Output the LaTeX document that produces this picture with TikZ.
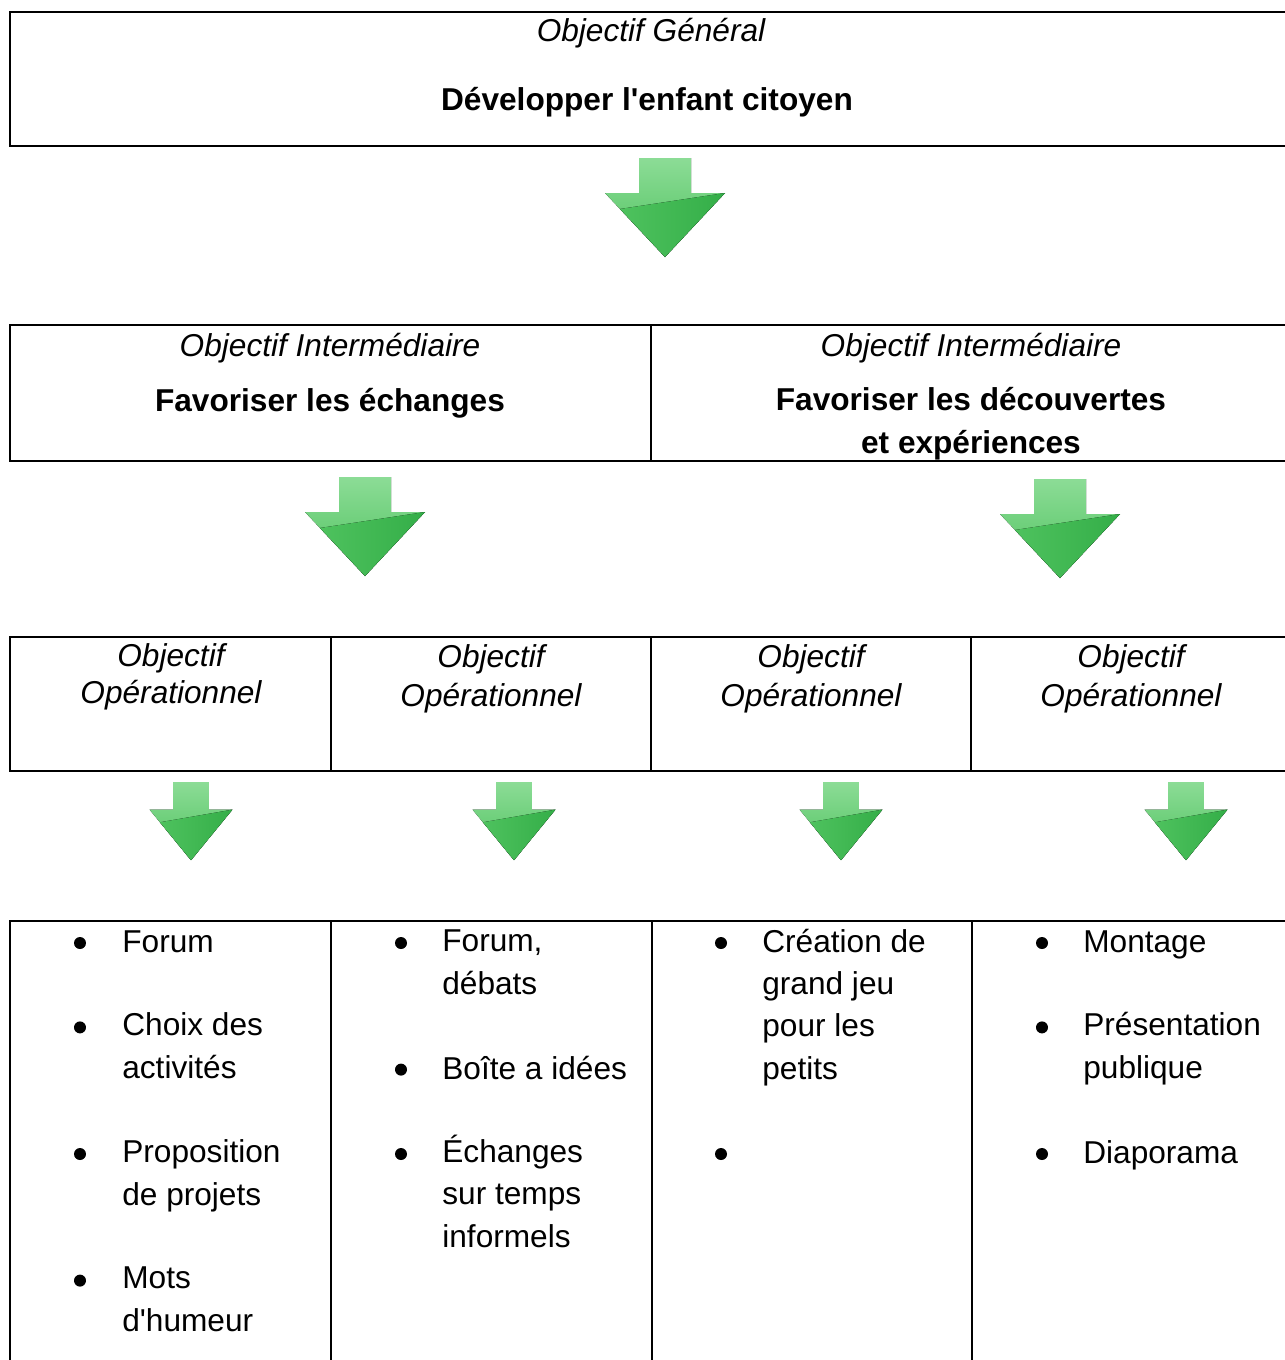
\documentclass[tikz,border=0pt]{standalone}
\usepackage{fontspec}
\setmainfont{Liberation Sans}
\usetikzlibrary{positioning}

\definecolor{arrowlight}{RGB}{140,220,150}
\definecolor{arrowmid}{RGB}{78,194,94}
\definecolor{arrowdark}{RGB}{52,174,72}

\tikzset{
    cell/.style={draw, line width=1.1pt},
    kind/.style={font=\fontsize{18}{22}\selectfont\itshape, anchor=base, align=center},
    aim/.style={font=\fontsize{18}{24}\selectfont\bfseries, anchor=base, align=center},
    item/.style={font=\fontsize{18}{24}\selectfont, anchor=base west, align=left, inner sep=0pt},
    dot/.style={circle, fill=black, inner sep=0pt, minimum size=0.24cm},
}

% block arrow: centre x, top y, xscale, yscale
\newcommand{\greenarrow}[4]{
    \begin{scope}[shift={(#1,#2)}, xscale=#3, yscale=#4]
        \fill[top color=arrowlight, bottom color=arrowmid]
            (-26,0) -- (26,0) -- (26,35) -- (60,35) -- (0,99) -- (-60,35) -- (-26,35) -- cycle;
        \fill[left color=arrowmid, right color=arrowdark] (-45,51) -- (60,35) -- (0,99) -- cycle;
    \end{scope}
}

\begin{document}
\begin{tikzpicture}[x=0.02cm, y=-0.02cm]
    \useasboundingbox (0,0) rectangle (1285,1360);
    \clip (0,0) rectangle (1285,1360);

    % general objective
    \draw[cell] (10,12) rectangle (1300,146);
    \node[kind] (gen) at (651,41) {Objectif Général};
    \node[aim] (genaim) at (647,110) {Développer l\textquotesingle enfant citoyen};
    \greenarrow{665}{158}{1}{1}

    % intermediate objectives (multi-line nodes sit on their last baseline)
    \draw[cell] (10,325) rectangle (1300,461);
    \draw[cell] (651,325) -- (651,461);
    \node[kind] (int1) at (330,356) {Objectif Intermédiaire};
    \node[aim] (intaim1) at (330,411) {Favoriser les échanges};
    \node[kind] (int2) at (971,356) {Objectif Intermédiaire};
    \node[aim] (intaim2) at (971,453) {Favoriser les découvertes\\et expériences};
    \greenarrow{365}{477}{1}{1}
    \greenarrow{1060}{479}{1}{1}

    % operational objectives
    \draw[cell] (10,637) rectangle (1300,771);
    \foreach \x in {331,651,971}
        \draw[cell] (\x,637) -- (\x,771);
    \node[kind, font=\fontsize{18}{20.5}\selectfont\itshape] (op1) at (171,703) {Objectif\\Opérationnel};
    \node[kind] (op2) at (491,706) {Objectif\\Opérationnel};
    \node[kind] (op3) at (811,706) {Objectif\\Opérationnel};
    \node[kind] (op4) at (1131,706) {Objectif\\Opérationnel};
    \foreach \x in {191,514,841,1186}
        {\greenarrow{\x}{782}{0.69}{0.79}}

    % actions
    \draw[cell] (10,921) rectangle (1300,1400);
    \foreach \x in {331,652,972}
        \draw[cell] (\x,921) -- (\x,1400);
    \foreach \x/\k [count=\i] in {80/0,80/2,80/5,80/8,401/0,401/3,401/5,721/0,721/5,1042/0,1042/2,1042/5}
        \node[dot] (dot\i) at (\x,{943+42.2*\k}) {};

    \node[item] (forum) at (122,952) {Forum};
    \node[item] (choix) at (122,1078) {Choix des\\activités};
    \node[item] (projets) at (122,1205) {Proposition\\de projets};
    \node[item] (humeur) at (122,1331) {Mots\\d\textquotesingle humeur};

    \node[item] (debats) at (442,994) {Forum,\\débats};
    \node[item] (boite) at (442,1079) {Boîte a idées};
    \node[item] (echanges) at (442,1247) {Échanges\\sur temps\\informels};

    \node[item] (jeu) at (762,1079) {Création de\\grand jeu\\pour les\\petits};

    \node[item] (montage) at (1083,952) {Montage};
    \node[item] (presentation) at (1083,1078) {Présentation\\publique};
    \node[item] (diaporama) at (1083,1163) {Diaporama};
\end{tikzpicture}
\end{document}
